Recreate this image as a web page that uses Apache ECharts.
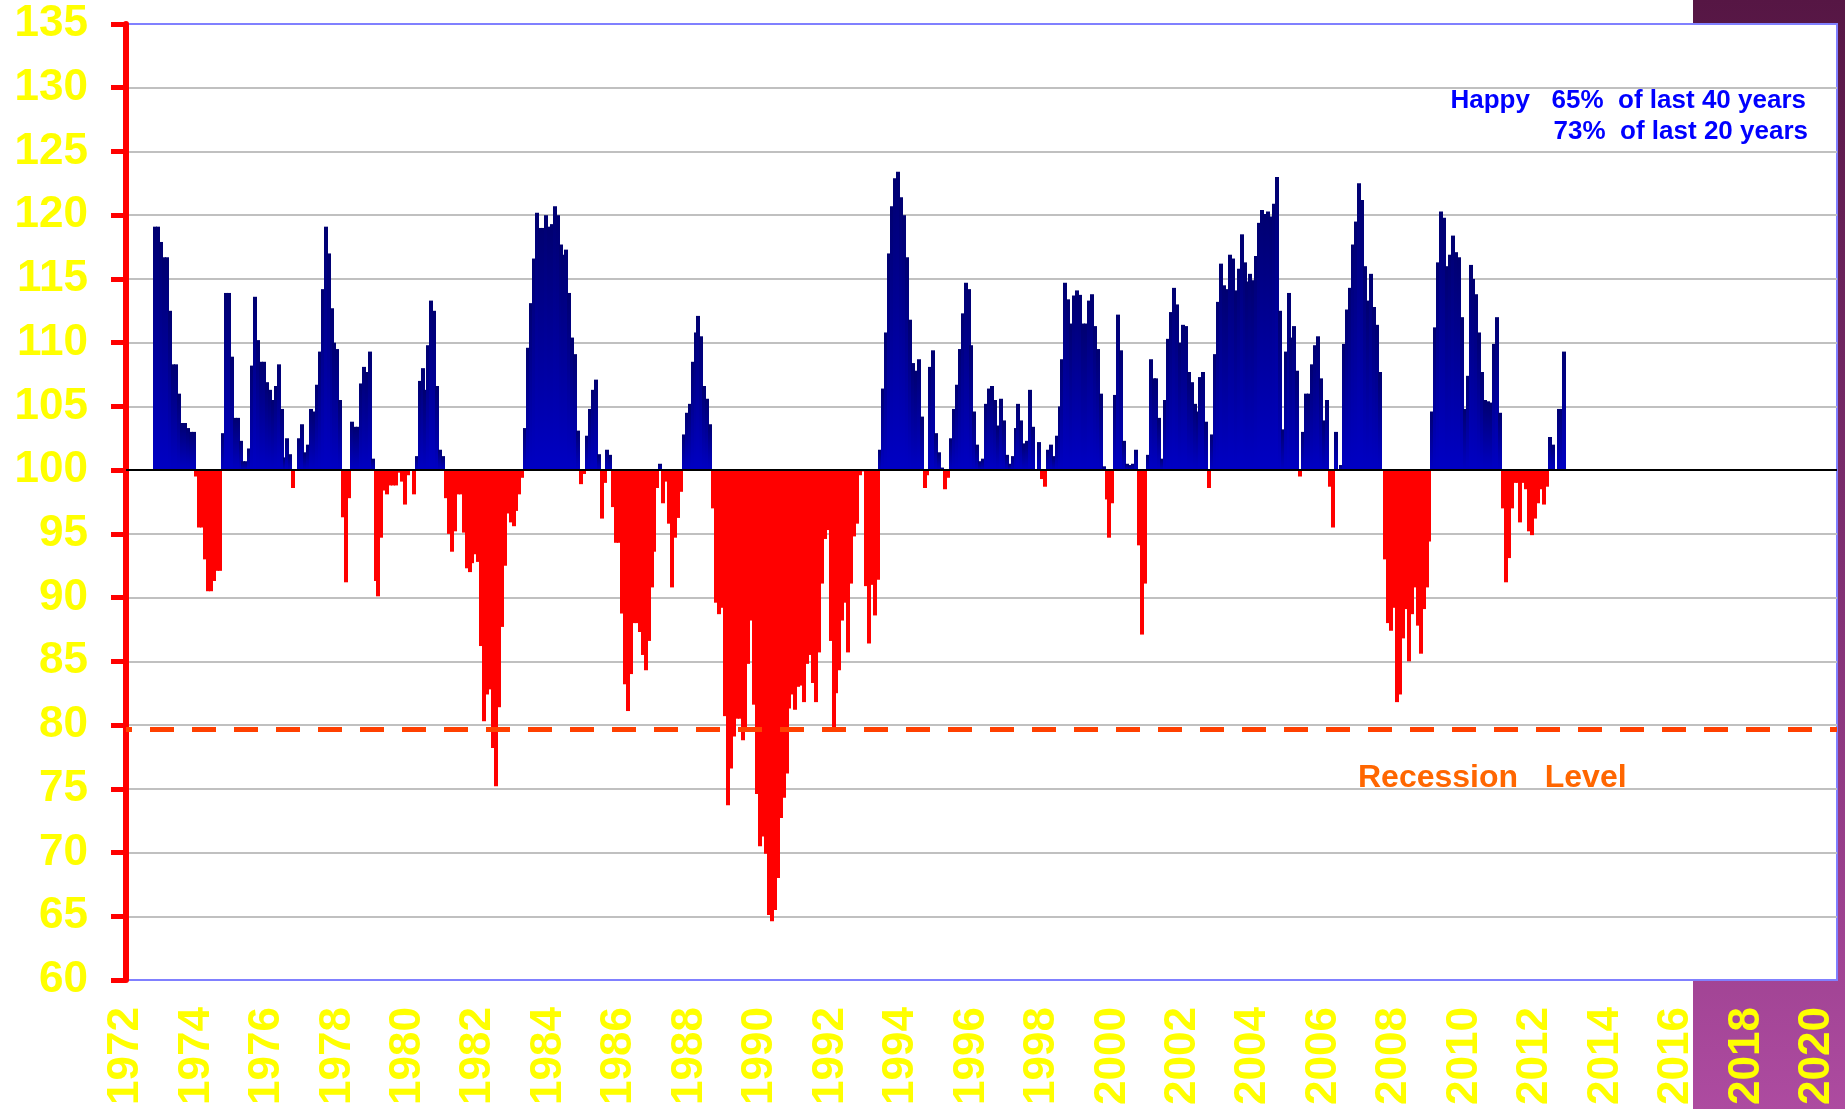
<!DOCTYPE html>
<html>
<head>
<meta charset="utf-8">
<script src="https://cdn.jsdelivr.net/npm/echarts@6/dist/echarts.min.js"></script>
<style>
  html, body { margin: 0; padding: 0; background: #ffffff; }
  #wrap { position: relative; width: 1845px; height: 1109px; overflow: hidden; background: #ffffff; }
  #purple { position: absolute; left: 1693px; top: 0; width: 152px; height: 1109px;
            background: linear-gradient(to bottom, #561644 0%, #7a2c6c 45%, #ad4ba0 100%); }
  #chart { position: absolute; left: 0; top: 0; width: 1845px; height: 1109px; }
</style>
</head>
<body>
<div id="wrap">
  <div id="purple"></div>
  <div id="chart"></div>
</div>
<script>
// ---- data: monthly index values, first value = November 1972 ----
const startYear = 1972;
const startMonth = 11; // November

const values1972to1979 = [
  119.1, 119.1,
  117.9, 116.7, 116.7, 112.5, 108.3, 108.3, 106.0, 103.7, 103.7, 103.3, 103.0, 103.0,
  99.5, 95.5, 95.5, 93.0, 90.5, 90.5, 91.3, 92.1, 92.1, 102.9, 113.9, 113.9,
  108.9, 104.1, 104.1, 102.3, 100.7, 100.7, 101.7, 108.2, 113.6, 110.2, 108.5, 108.5,
  106.9, 106.3, 105.5, 106.6, 108.3, 104.8, 101.0, 102.5, 101.25, 98.6, 100.0, 102.5,
  103.6, 101.4, 102.0, 104.8, 104.6, 106.7, 109.3, 114.2, 119.1, 117.0, 112.7, 110.0,
  109.5, 105.5, 96.3, 91.2, 97.8, 103.8, 103.4, 103.4, 106.8, 108.1, 107.7, 109.3,
  100.9, 91.3, 90.1, 94.7, 98.4, 98.1, 98.8, 98.8, 98.8, 99.8, 99.1, 97.3
];
const values1980s = [
  99.6, 100.0, 98.1, 101.1, 107.0, 108.0, 106.3, 109.8, 113.3, 112.5, 106.6, 101.6,
  101.1, 97.8, 95.0, 93.6, 95.2, 98.1, 98.1, 95.1, 92.3, 92.0, 92.7, 93.4,
  92.8, 86.2, 80.3, 82.4, 82.8, 78.2, 75.2, 81.4, 87.7, 92.5, 96.6, 95.9,
  95.6, 96.8, 98.1, 99.4, 103.3, 109.6, 113.1, 116.6, 120.2, 119.0, 119.0, 120.0,
  119.1, 119.3, 120.7, 120.0, 117.7, 116.9, 117.3, 113.9, 110.4, 109.1, 103.1, 98.9,
  99.7, 102.7, 104.8, 106.3, 107.1, 101.25, 96.2, 99.0, 101.6, 101.2, 97.1, 94.3,
  94.3, 88.75, 83.2, 81.1, 84.0, 88.0, 88.0, 87.3, 85.5, 84.3, 86.6, 90.8,
  93.6, 98.6, 100.5, 97.4, 99.1, 95.8, 90.8, 94.7, 96.25, 98.3, 102.8, 104.5,
  105.2, 108.5, 110.8, 112.1, 110.5, 106.6, 105.6, 103.6, 97.0, 89.6, 88.7, 89.2,
  80.7, 73.7, 76.6, 79.1, 80.5, 80.5, 78.8, 79.8, 84.8, 88.2, 81.6, 74.6
];
const values1990s = [
  70.5, 71.25, 69.9, 65.1, 64.6, 65.5, 68.0, 72.7, 74.3, 76.2, 81.3, 82.4,
  81.2, 83.0, 83.1, 81.8, 84.8, 85.5, 83.3, 81.8, 85.7, 91.1, 94.6, 95.3,
  86.6, 79.8, 82.5, 84.3, 88.2, 89.6, 85.7, 91.1, 94.8, 95.8, 99.6, 99.9,
  90.9, 86.4, 91.0, 88.6, 91.4, 101.6, 106.4, 110.8, 117.0, 120.7, 122.9, 123.4,
  121.4, 120.0, 116.7, 111.8, 108.4, 107.8, 108.7, 104.2, 98.6, 99.6, 108.1, 109.4,
  102.9, 101.4, 100.2, 98.5, 99.4, 102.5, 104.8, 106.7, 109.5, 112.3, 114.7, 114.2,
  109.8, 104.6, 102.0, 100.7, 100.9, 105.2, 106.4, 106.6, 105.5, 103.5, 105.6, 103.9,
  101.2, 100.5, 101.1, 103.3, 105.2, 103.9, 102.1, 102.3, 106.3, 103.4, 100.0, 102.2,
  99.3, 98.7, 101.6, 102.0, 101.1, 102.7, 105.0, 108.7, 114.7, 113.4, 111.5, 113.7,
  114.1, 113.75, 111.5, 111.5, 113.3, 113.8, 111.3, 109.5, 106.0, 100.3, 97.7, 94.7
];
const values2000s = [
  97.4, 105.9, 112.2, 109.4, 102.3, 100.5, 100.4, 100.5, 101.6, 94.1, 87.1, 91.1,
  101.2, 108.7, 107.2, 107.2, 104.1, 100.9, 105.5, 110.3, 112.4, 114.3, 113.0, 110.0,
  111.4, 111.3, 107.7, 106.9, 105.2, 104.6, 107.3, 107.7, 103.8, 98.6, 102.8, 109.1,
  113.2, 116.2, 114.5, 114.2, 116.9, 116.6, 114.1, 115.8, 118.5, 116.3, 114.8, 115.4,
  114.9, 116.8, 119.4, 120.4, 120.1, 120.3, 119.9, 120.9, 123.0, 112.5, 103.2, 109.3,
  113.9, 110.4, 111.3, 107.8, 99.5, 103.0, 106.0, 106.0, 108.3, 109.8, 110.5, 107.2,
  103.9, 105.5, 98.7, 95.5, 103.0, 100.0, 100.4, 109.9, 112.6, 114.3, 117.7, 119.5,
  122.5, 121.2, 116.0, 113.3, 115.4, 112.8, 111.4, 107.7, 100.0, 93.0, 88.0, 87.4,
  89.2, 81.8, 82.4, 86.8, 89.1, 85.0, 88.7, 90.8, 87.8, 85.6, 89.1, 90.8,
  94.4, 104.6, 111.2, 116.3, 120.3, 119.8, 116.0, 116.9, 118.4, 117.1, 116.7, 112.0
];
const values2010s = [
  104.8, 107.4, 116.1, 115.0, 113.8, 110.8, 107.7, 105.5, 105.4, 105.3, 109.9, 112.0,
  104.5, 97.0, 91.2, 93.1, 97.0, 99.0, 99.0, 95.9, 99.0, 98.5, 95.2, 94.9,
  96.2, 97.4, 98.5, 97.3, 98.7, 102.6, 102.0, 100.0, 104.8, 104.8, 109.3
];

const baseLevel = 100;
const recessionLevel = 79.7;
const yTicks = { min: 60, max: 135, step: 5 };
const xTicks = { min: 1972, last: 2020, step: 2 };

const allValues = [].concat(values1972to1979, values1980s, values1990s, values2000s, values2010s);
const seriesData = allValues.map((v, i) => [startYear + (startMonth - 1) / 12 + i / 12, v]);

const chart = echarts.init(document.getElementById('chart'), null, { renderer: 'canvas' });

const FONT = '"Liberation Sans", Arial, Helvetica, sans-serif';
const blueFill = new echarts.graphic.LinearGradient(0, 0, 0, 1, [
  { offset: 0, color: '#000070' },
  { offset: 1, color: '#0000c4' }
]);

const option = {
  backgroundColor: 'transparent',
  animation: false,
  grid: {
    left: 126, right: 8, top: 24, bottom: 129,
    show: true, backgroundColor: '#ffffff', borderColor: '#8080ff', borderWidth: 2,
    containLabel: false
  },
  xAxis: {
    type: 'value',
    min: xTicks.min,
    max: 2020.57,
    interval: xTicks.step,
    axisLine: { show: false },
    axisTick: { show: false },
    splitLine: { show: false },
    axisLabel: {
      rotate: 90,
      margin: 27,
      color: '#ffff00',
      fontSize: 44,
      fontWeight: 'bold',
      fontFamily: FONT,
      showMaxLabel: false,
      formatter: function (v) {
        const r = Math.round(v);
        return (Math.abs(v - r) < 1e-6 && r <= xTicks.last) ? String(r) : '';
      }
    }
  },
  yAxis: {
    type: 'value',
    min: yTicks.min,
    max: yTicks.max,
    interval: yTicks.step,
    axisLine: { show: true, onZero: false, lineStyle: { color: '#ff0000', width: 6 } },
    axisTick: { show: true, length: 15, lineStyle: { color: '#ff0000', width: 5 } },
    splitLine: { show: true, showMinLine: false, showMaxLine: false, lineStyle: { color: '#c0c0c0', width: 2 } },
    axisLabel: {
      margin: 38,
      color: '#ffff00',
      fontSize: 44,
      fontWeight: 'bold',
      fontFamily: FONT
    }
  },
  series: [
    {
      type: 'custom',
      name: 'index',
      data: seriesData,
      encode: { x: 0, y: 1 },
      clip: true,
      z: 3,
      renderItem: function (params, api) {
        const x = api.value(0);
        const v = api.value(1);
        const w = api.size([1 / 12, 0])[0];
        const p0 = api.coord([x, baseLevel]);
        const p1 = api.coord([x, v]);
        const top = Math.min(p0[1], p1[1]);
        const h = Math.abs(p1[1] - p0[1]);
        return {
          type: 'rect',
          shape: { x: Math.floor(p0[0] - w / 2), y: top, width: Math.ceil(w) + 1, height: h },
          style: { fill: v >= baseLevel ? blueFill : '#ff0000' }
        };
      }
    },
    {
      type: 'line',
      data: [],
      z: 5,
      markLine: {
        silent: true,
        symbol: ['none', 'none'],
        label: { show: false },
        animation: false,
        data: [
          { yAxis: baseLevel, lineStyle: { color: '#000000', width: 2, type: 'solid' } },
          { yAxis: recessionLevel, lineStyle: { color: '#ff4000', width: 5, type: [24, 18], dashOffset: 18 } }
        ]
      }
    }
  ],
  graphic: [
    {
      type: 'text', x: 1806, y: 101, z: 10,
      style: { text: 'Happy   65%  of last 40 years', fill: '#0000ff', font: 'bold 26px ' + FONT, align: 'right', verticalAlign: 'middle' }
    },
    {
      type: 'text', x: 1808, y: 132, z: 10,
      style: { text: '73%  of last 20 years', fill: '#0000ff', font: 'bold 26px ' + FONT, align: 'right', verticalAlign: 'middle' }
    },
    {
      type: 'text', x: 1358, y: 778, z: 10,
      style: { text: 'Recession   Level', fill: '#ff6600', font: 'bold 32px ' + FONT, align: 'left', verticalAlign: 'middle' }
    }
  ]
};

chart.setOption(option);
</script>
</body>
</html>
